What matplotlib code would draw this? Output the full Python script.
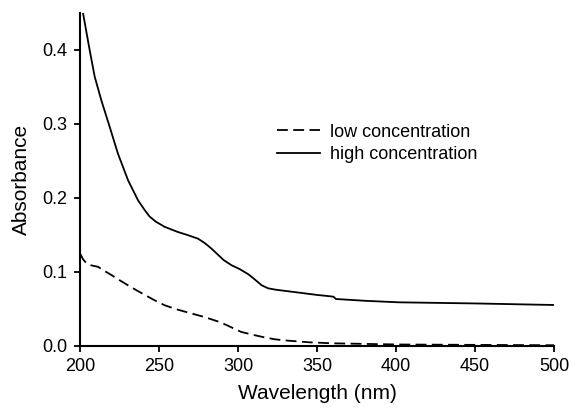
import numpy as np
import matplotlib
matplotlib.use("Agg")
from matplotlib import pyplot as plt

plt.rcParams['font.family'] = ['Liberation Sans', 'DejaVu Sans']

# high concentration
high_wl = [201.9, 204, 206.1, 209.3, 213.5, 218.8, 224, 230.4, 236.7, 240.5, 244, 248, 253.6,
           262, 268, 274.7, 279, 283, 287, 291, 296, 301, 306.5, 310, 315, 319, 324, 339,
           350, 359, 360.5, 362, 381, 402, 450, 500]
high_abs = [0.45, 0.425, 0.40, 0.364, 0.332, 0.296, 0.260, 0.224, 0.197, 0.185, 0.175, 0.168, 0.161,
            0.154, 0.150, 0.145, 0.139, 0.132, 0.124, 0.116, 0.109, 0.104, 0.097, 0.091, 0.082, 0.078,
            0.076, 0.072, 0.069, 0.067, 0.0665, 0.0635, 0.061, 0.059, 0.0575, 0.0554]

# low concentration
low_wl = [200, 202, 204, 207, 211.4, 215, 219.8, 225, 230.4, 236, 241, 247, 253.6, 262, 270.5,
          279, 287.5, 292, 297, 302, 309.7, 316, 323.4, 330, 345, 360, 402, 450, 500]
low_abs = [0.125, 0.117, 0.112, 0.109, 0.107, 0.102, 0.096, 0.089, 0.082, 0.075, 0.069, 0.062, 0.055,
           0.049, 0.044, 0.039, 0.033, 0.029, 0.024, 0.019, 0.015, 0.012, 0.009, 0.0075, 0.005,
           0.0036, 0.002, 0.0015, 0.001]

fig = plt.figure(figsize=(5.69, 4.16), dpi=100)
ax = fig.add_axes([0.1406, 0.1683, 0.833, 0.8005])

ax.plot(low_wl, low_abs, color='black', lw=1.3, dashes=(6, 3), label='low concentration')
ax.plot(high_wl, high_abs, color='black', lw=1.3, label='high concentration')

ax.set_xlim(200, 500)
ax.set_ylim(0, 0.45)
ax.set_xticks(np.arange(200, 501, 50))
ax.set_yticks(np.arange(0, 0.41, 0.1))
ax.set_yticklabels(['%.1f' % v for v in np.arange(0, 0.41, 0.1)])
ax.tick_params(direction='out', length=4, width=1.3, labelsize=13, pad=5)
for s in ['top', 'right']:
    ax.spines[s].set_visible(False)
for s in ['left', 'bottom']:
    ax.spines[s].set_linewidth(1.5)

ax.set_xlabel('Wavelength (nm)', fontsize=15, labelpad=6)
ax.set_ylabel('Absorbance', fontsize=15, labelpad=8)

ax.legend(loc='center left', bbox_to_anchor=(0.4156, 0.608), frameon=False, fontsize=13,
          handlelength=2.4, handletextpad=0.55, borderpad=0, borderaxespad=0, labelspacing=0.3)

fig.savefig('out.png', dpi=100)
